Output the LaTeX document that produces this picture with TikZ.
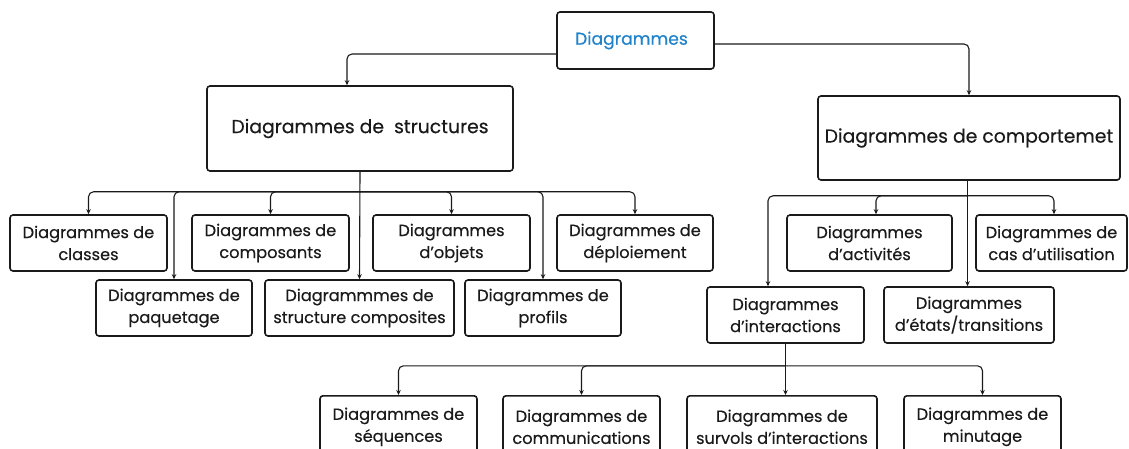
\documentclass[tikz,border=0pt]{standalone}
\usepackage{fontspec}
\setmainfont{Poppins}[FakeBold=0.35]
\usetikzlibrary{arrows.meta,calc}
\definecolor{ink}{HTML}{1A1A1A}
\definecolor{topblue}{HTML}{2183C9}
\begin{document}
\begin{tikzpicture}[x=1pt,y=-1pt,
  box/.style={draw=ink,line width=1.6pt,rounded corners=3pt,align=center,inner sep=0pt,
    font=\fontsize{16.2}{22}\selectfont,text=ink},
  bigbox/.style={box,font=\fontsize{18.8}{24}\selectfont},
  link/.style={draw=ink,line width=1.1pt,rounded corners=5pt,-{Stealth[length=5pt,width=4.5pt]}}]
\useasboundingbox (0,0) rectangle (1129,449);
% top
\node[box,minimum width=157pt,minimum height=57pt,text=topblue,font=\fontsize{17.2}{22}\selectfont] (top) at (635.5,40.5) {\hspace*{-8pt}Diagrammes};
\node[bigbox,minimum width=306pt,minimum height=85pt] (struct) at (360,128.5) {Diagrammes de\ \ structures};
\node[bigbox,minimum width=302pt,minimum height=84pt] (comp) at (969,138) {Diagrammes de comportemet};
% structure children
\node[box,minimum width=157pt,minimum height=56pt] (classes) at (88.5,243) {Diagrammes de\\classes};
\node[box,minimum width=157pt,minimum height=56pt] (composants) at (270.5,243) {Diagrammes de\\composants};
\node[box,minimum width=157pt,minimum height=56pt] (objets) at (451.5,243) {Diagrammes\\d'objets};
\node[box,minimum width=156pt,minimum height=56pt] (deploiement) at (635,243) {Diagrammes de\\déploiement};
\node[box,minimum width=156pt,minimum height=56pt] (paquetage) at (174,308) {Diagrammes de\\paquetage};
\node[box,minimum width=189pt,minimum height=56pt] (structcomp) at (359.5,308) {Diagrammmes de\\structure composites};
\node[box,minimum width=156pt,minimum height=56pt] (profils) at (543,308) {Diagrammes de\\profils};
% behaviour children
\node[box,minimum width=165pt,minimum height=56pt] (activites) at (869.5,243) {Diagrammes\\d'activités};
\node[box,minimum width=151pt,minimum height=56pt] (cas) at (1051.5,243) {Diagrammes de\\cas d'utilisation};
\node[box,minimum width=157pt,minimum height=56pt] (interactions) at (785.5,315) {Diagrammes\\d'interactions};
\node[box,minimum width=170pt,minimum height=56pt] (etats) at (969,315) {Diagrammes\\d'états/transitions};
% interaction children
\node[box,minimum width=157pt,minimum height=62pt,anchor=north] (sequences) at (398.5,395) {Diagrammes de\\séquences};
\node[box,minimum width=157pt,minimum height=62pt,anchor=north] (communications) at (581.5,395) {Diagrammes de\\communications};
\node[box,minimum width=190pt,minimum height=62pt,anchor=north] (survols) at (782,395) {Diagrammes de\\survols d'interactions};
\node[box,minimum width=157pt,minimum height=62pt,anchor=north] (minutage) at (982.5,395) {Diagrammes de\\minutage};
% connectors from top
\draw[link] ([yshift=-13.5pt]top.west) -| ([xshift=-13pt]struct.north);
\draw[link] ([yshift=-3.5pt]top.east) -| (comp.north);
% structure bus
\coordinate (bs) at ($(struct.south)+(0,20)$);
\draw[link] (struct.south) -- (structcomp.north);
\draw[link] (bs) -| (classes.north);
\draw[link] (bs) -| (composants.north);
\draw[link] (bs) -| (objets.north);
\draw[link] (bs) -| (deploiement.north);
\draw[link] (bs) -| (paquetage.north);
\draw[link] (bs) -| (profils.north);
% behaviour bus
\coordinate (bc) at ($([xshift=-1.5pt]comp.south)+(0,15)$);
\draw[link] ([xshift=-1.5pt]comp.south) -- ([xshift=-1.5pt]etats.north);
\draw[link] (bc) -| ([xshift=-17.5pt]interactions.north);
\draw[link] (bc) -| ([xshift=6.5pt]activites.north);
\draw[link] (bc) -| ([xshift=2.5pt]cas.north);
% interaction bus
\coordinate (bi) at ($(interactions.south)+(0,22)$);
\draw[link] (interactions.south) -- (interactions.south |- survols.north);
\draw[link] (bi) -| (sequences.north);
\draw[link] (bi) -| (communications.north);
\draw[link] (bi) -| (minutage.north);
\end{tikzpicture}
\end{document}
